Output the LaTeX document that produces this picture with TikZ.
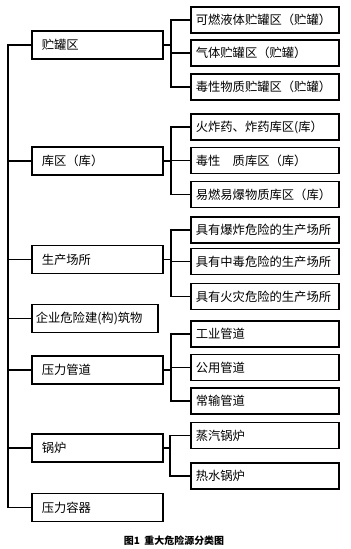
\documentclass[tikz,border=0pt]{standalone}
\usepackage{fontspec}
\setmainfont{Noto Sans CJK SC}
\usetikzlibrary{positioning,calc}
\tikzset{
  catbox/.style={draw=black, line width=1.4pt, anchor=west, align=left,
    minimum height=8.4mm, inner xsep=3mm, text width=33.3mm,
    font=\fontsize{10.5}{12}\selectfont},
  subbox/.style={draw=black, line width=1.4pt, anchor=west, align=left,
    minimum height=7.8mm, inner xsep=1.5mm, text width=41.4mm,
    font=\fontsize{10.5}{12}\selectfont},
  link/.style={line width=1.4pt}
}
\newcommand{\stub}[2]{\draw[link] (#1) -- (#1 -| #2);}

\begin{document}
\begin{tikzpicture}[x=0.03cm, y=-0.03cm]
  \useasboundingbox (0,0) rectangle (350,549);
  \coordinate (tk) at (8,0);

  % left column
  \node[catbox] (tank) at (31,45) {贮罐区};
  \node[catbox] (store) at (31,161) {库区（库）};
  \node[catbox] (plant) at (31,259.5) {生产场所};
  \node[catbox, inner xsep=1.2mm, text width=35.4mm] (build) at (31,318.5) {企业危险建(构)筑物};
  \node[catbox] (pipe) at (31,370) {压力管道};
  \node[catbox] (boil) at (31,448) {锅炉};
  \node[catbox] (vess) at (31,507.5) {压力容器};

  \draw[link] (tank.west) -- (tank.west -| tk) |- (vess.west);
  \stub{store.west}{tk}
  \stub{plant.west}{tk}
  \stub{build.west}{tk}
  \stub{pipe.west}{tk}
  \stub{boil.west}{tk}

  % tanks
  \begin{scope}
    \coordinate (ba) at (171,0);
    \node[subbox] (t1) at (190,20) {可燃液体贮罐区（贮罐）};
    \node[subbox] (t2) at (190,53) {气体贮罐区（贮罐）};
    \node[subbox] (t3) at (190,87) {毒性物质贮罐区（贮罐）};
    \stub{tank.east}{ba}
    \draw[link] (t1.west) -- (t1.west -| ba) |- (t3.west);
    \stub{t2.west}{ba}
  \end{scope}

  % stores
  \begin{scope}
    \coordinate (bb) at (171,0);
    \node[subbox] (s1) at (190,127) {火炸药、炸药库区(库）};
    \node[subbox] (s2) at (190,160.5) {毒性　质库区（库）};
    \node[subbox] (s3) at (190,194.5) {易燃易爆物质库区（库）};
    \stub{store.east}{bb}
    \draw[link] (s1.west) -- (s1.west -| bb) |- (s3.west);
    \stub{s2.west}{bb}
  \end{scope}

  % plants
  \begin{scope}
    \coordinate (bc) at (171,0);
    \node[subbox] (p1) at (190,230) {具有爆炸危险的生产场所};
    \node[subbox] (p2) at (190,261.5) {具有中毒危险的生产场所};
    \node[subbox] (p3) at (190,296.5) {具有火灾危险的生产场所};
    \stub{plant.east}{bc}
    \draw[link] (p1.west) -- (p1.west -| bc) |- (p3.west);
    \stub{p2.west}{bc}
  \end{scope}

  % pipes
  \begin{scope}
    \coordinate (bd) at (171,0);
    \node[subbox] (g1) at (190,334) {工业管道};
    \node[subbox] (g2) at (190,367.5) {公用管道};
    \node[subbox] (g3) at (190,401) {常输管道};
    \stub{pipe.east}{bd}
    \draw[link] (g1.west) -- (g1.west -| bd) |- (g3.west);
    \stub{g2.west}{bd}
  \end{scope}

  % boilers
  \begin{scope}
    \coordinate (be) at (170,0);
    \node[subbox] (b1) at (190,435.5) {蒸汽锅炉};
    \node[subbox] (b2) at (190,476) {热水锅炉};
    \stub{boil.east}{be}
    \draw[link] (b1.west) -- (b1.west -| be) |- (b2.west);
  \end{scope}

  \node[font=\bfseries\fontsize{8.5}{10}\selectfont] (cap) at (174,541) {图1\ \ 重大危险源分类图};
\end{tikzpicture}
\end{document}
